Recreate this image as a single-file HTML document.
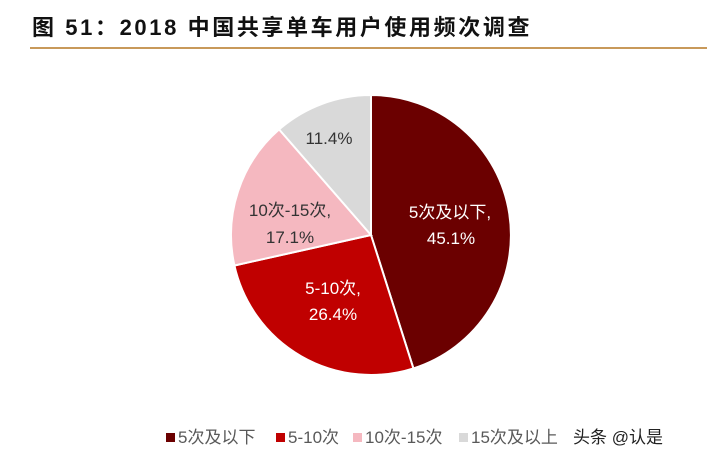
<!DOCTYPE html>
<html><head><meta charset="utf-8"><style>
body{margin:0;width:707px;height:463px;background:#fff;overflow:hidden;position:relative;font-family:"Liberation Sans","Noto Sans CJK SC",sans-serif}
.t{position:absolute;left:32px;top:10px;font-size:22px;font-weight:bold;color:#111;letter-spacing:2.6px;white-space:nowrap}
.l{position:absolute;left:30px;top:47px;width:677px;height:2px;background:#c8995a}
.lg{position:absolute;top:423px;font-size:17px;color:#595959;white-space:nowrap}
.lg i{display:inline-block;width:9px;height:9px;margin-right:3px;vertical-align:1px}
</style></head><body>
<div class="t">图 51：2018 中国共享单车用户使用频次调查</div>
<div class="l"></div>
<svg width="707" height="463" style="position:absolute;left:0;top:0">
<g stroke="#fff" stroke-width="2">
<path d="M371,235 L371,95 A140,140 0 0 1 413.4,368.4 Z" fill="#6b0000"/>
<path d="M371,235 L413.4,368.4 A140,140 0 0 1 234.4,265.5 Z" fill="#c00000"/>
<path d="M371,235 L234.4,265.5 A140,140 0 0 1 279.1,129.4 Z" fill="#f5b8c0"/>
<path d="M371,235 L279.1,129.4 A140,140 0 0 1 371,95 Z" fill="#d9d9d9"/>
</g>
<g font-family="Liberation Sans, Noto Sans CJK SC, sans-serif" font-size="17" text-anchor="middle">
<text x="450" y="218" fill="#fff">5次及以下,</text>
<text x="451" y="244" fill="#fff">45.1%</text>
<text x="333" y="294" fill="#fff">5-10次,</text>
<text x="333" y="320" fill="#fff">26.4%</text>
<text x="290" y="216" fill="#333">10次-15次,</text>
<text x="290" y="243" fill="#333">17.1%</text>
<text x="329" y="144" fill="#333">11.4%</text>
</g>
</svg>
<div class="lg" style="left:166px"><i style="background:#6b0000"></i>5次及以下</div>
<div class="lg" style="left:276px"><i style="background:#c00000"></i>5-10次</div>
<div class="lg" style="left:353px"><i style="background:#f5b8c0"></i>10次-15次</div>
<div class="lg" style="left:459px"><i style="background:#d9d9d9"></i>15次及以上</div>
<div class="lg" style="left:573px;color:#222;font-size:17px">头条 @认是</div>
</body></html>
